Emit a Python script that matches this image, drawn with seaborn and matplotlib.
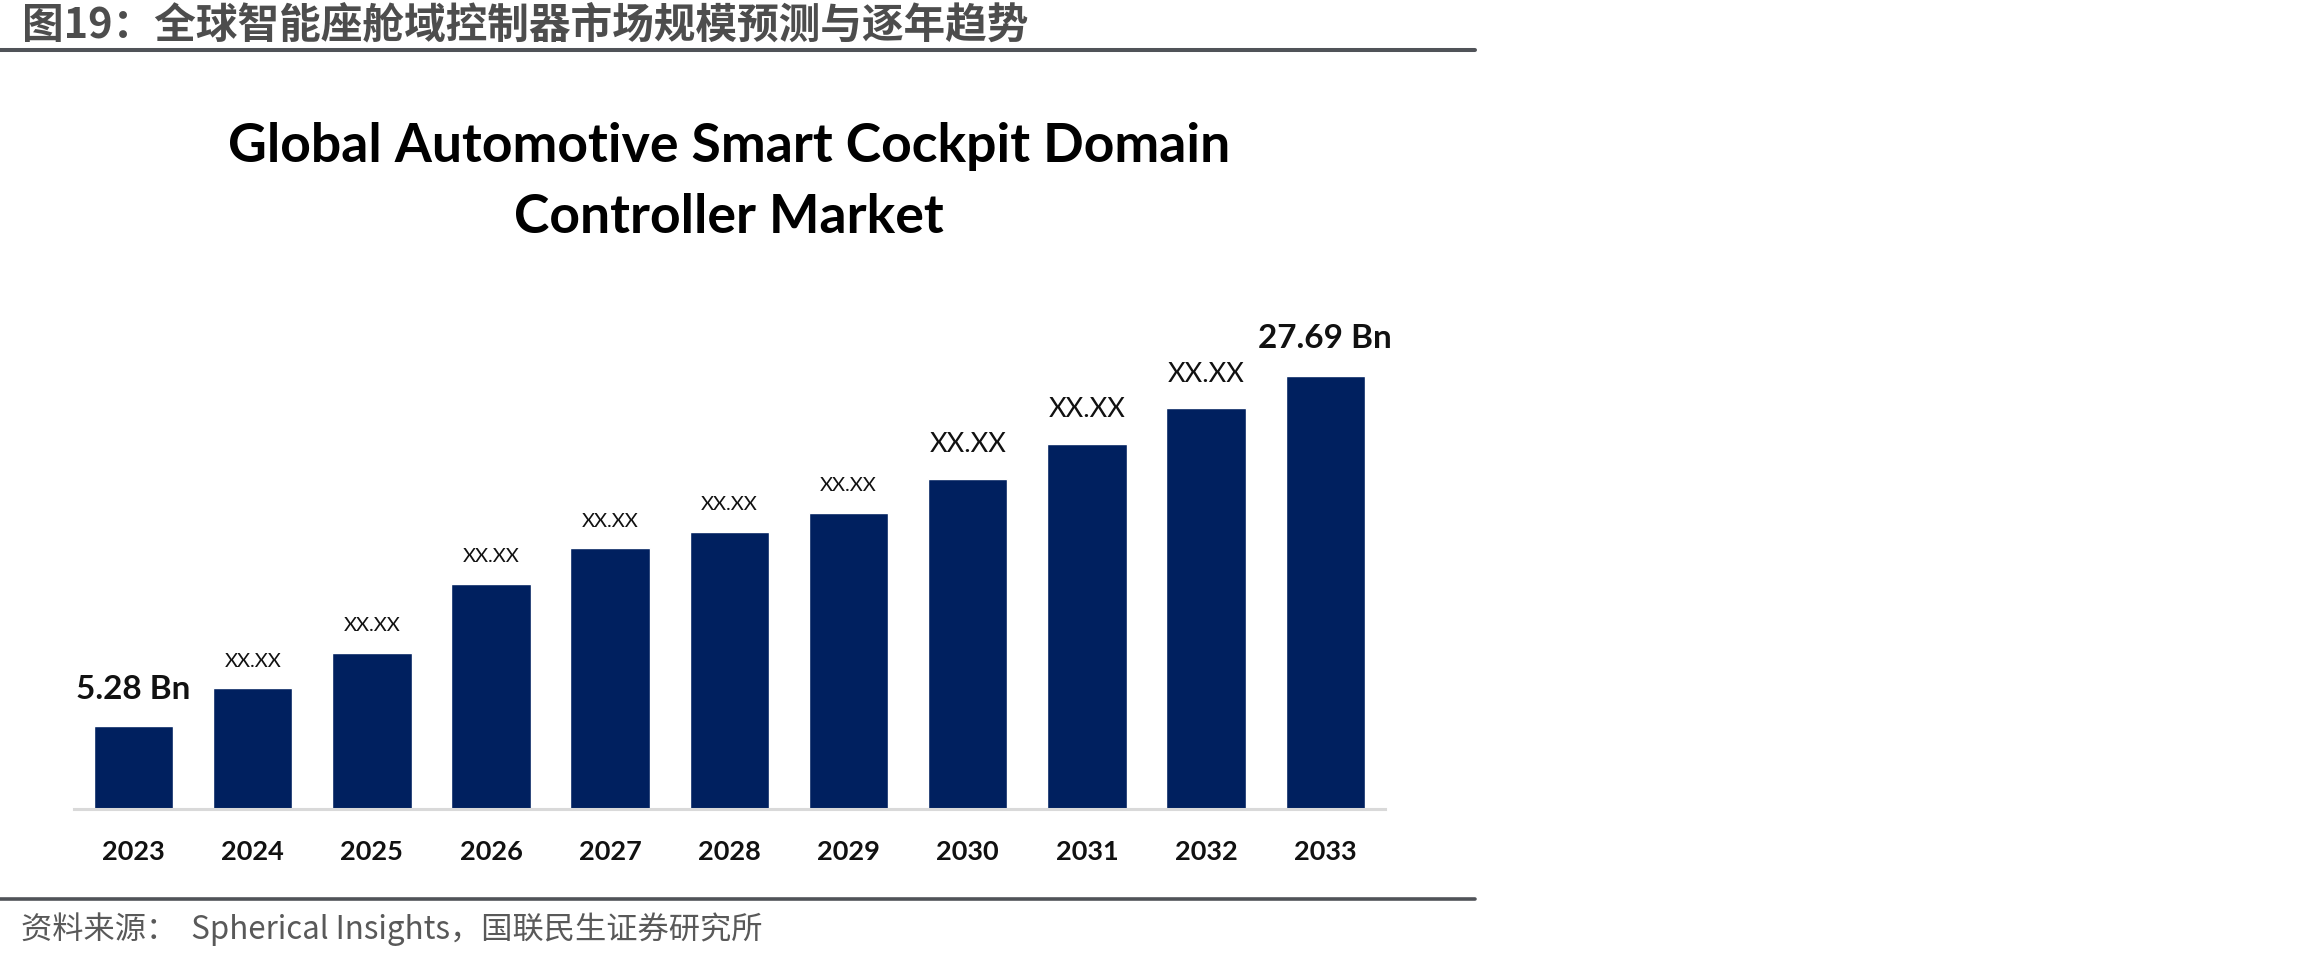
import matplotlib
matplotlib.use("Agg")
import matplotlib.pyplot as plt
from matplotlib.lines import Line2D
import seaborn as sns
import pandas as pd

# ---- data ----
years = ["2023", "2024", "2025", "2026", "2027", "2028",
         "2029", "2030", "2031", "2032", "2033"]
market_size = [5.28, 7.72, 9.98, 14.40, 16.66, 17.70,
               18.92, 21.09, 23.35, 25.61, 27.69]
value_labels = ["5.28 Bn", "XX.XX", "XX.XX", "XX.XX", "XX.XX", "XX.XX",
                "XX.XX", "XX.XX", "XX.XX", "XX.XX", "27.69 Bn"]

header = "图19：全球智能座舱域控制器市场规模预测与逐年趋势"
chart_title = "Global Automotive Smart Cockpit Domain\nController Market"
source = "资料来源：  Spherical Insights，国联民生证券研究所"

# label styling (kept apart from the data)
label_size = [24, 14.5, 14.5, 14.5, 14.5, 14.5, 14.5, 19.5, 19.5, 19.5, 24]
label_weight = ["bold"] + ["normal"] * 9 + ["bold"]
label_offset = [26.5, 19.5, 19.5, 19.5, 19.5, 19.5, 19.5, 24.5, 24.5, 24.5, 26.5]

BAR = "#00205F"
LINE = "#505358"

sns.set_theme(style="white")
plt.rcParams["font.family"] = ["Lato", "DejaVu Sans"]

df = pd.DataFrame({"year": years, "size": market_size})

fig = plt.figure(figsize=(23.1, 9.6), dpi=100)
ax = fig.add_axes([0.0320, 0.1573, 0.5675, 0.5217])

sns.barplot(data=df, x="year", y="size", color=BAR, width=0.667,
            saturation=1, ax=ax)

ax.set_xlim(-0.5, 10.5)
ax.set_ylim(0, 32)
ax.set_xlabel("")
ax.set_ylabel("")
ax.set_yticks([])
ax.tick_params(axis="x", length=0, pad=22, labelsize=19.5)
for lab in ax.get_xticklabels():
    lab.set_fontweight("bold")
    lab.set_color("#111111")

for side in ["top", "left", "right"]:
    ax.spines[side].set_visible(False)
ax.spines["bottom"].set_color("#d9d9d9")
ax.spines["bottom"].set_linewidth(2.2)

for i, (v, txt) in enumerate(zip(market_size, value_labels)):
    ax.annotate(txt, xy=(i, v), xytext=(0, label_offset[i]),
                textcoords="offset points", ha="center", va="center",
                fontsize=label_size[i], fontweight=label_weight[i],
                color="#111111")

# chart title
fig.text(0.3156, 0.8100, chart_title, ha="center", va="center",
         fontsize=38.5, fontweight="bold", color="#000000", linespacing=1.55)

# report header / footer
fig.text(0.0095, 1 - 26 / 960, header, ha="left", va="center",
         fontsize=30, fontweight="bold", color="#4d4d4d",
         family=["Noto Sans CJK SC", "DejaVu Sans"])
fig.add_artist(Line2D([0, 0.6385], [1 - 50 / 960] * 2, color=LINE,
                      linewidth=2.9, transform=fig.transFigure))
fig.add_artist(Line2D([0, 0.6385], [1 - 899 / 960] * 2, color=LINE,
                      linewidth=2.6, transform=fig.transFigure))
fig.text(0.0092, 1 - 929 / 960, source, ha="left", va="center",
         fontsize=22.5, color="#595959",
         family=["Noto Sans CJK SC", "DejaVu Sans"])

fig.savefig("out.png", dpi=100, facecolor="white")
